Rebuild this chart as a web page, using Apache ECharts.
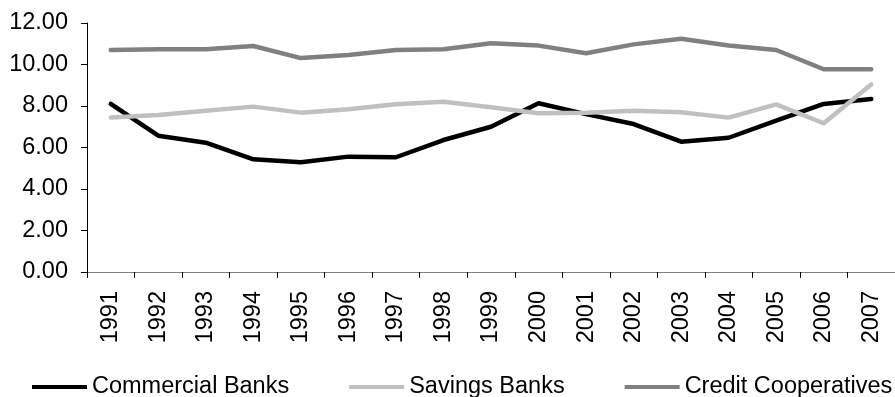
<!DOCTYPE html>
<html>
<head>
<meta charset="utf-8">
<script src="https://cdn.jsdelivr.net/npm/echarts@6/dist/echarts.min.js"></script>
<style>html,body{margin:0;padding:0;background:#fff;}#c{width:895px;height:397px;}</style>
</head>
<body>
<div id="c"></div>
<script>
const years = ['1991','1992','1993','1994','1995','1996','1997','1998','1999','2000','2001','2002','2003','2004','2005','2006','2007'];
const commercialBanks = [8.10, 6.57, 6.23, 5.43, 5.29, 5.56, 5.53, 6.36, 7.00, 8.13, 7.61, 7.13, 6.28, 6.47, 7.29, 8.10, 8.34];
const savingsBanks = [7.44, 7.57, 7.77, 7.97, 7.68, 7.84, 8.08, 8.21, 7.94, 7.65, 7.68, 7.77, 7.70, 7.44, 8.08, 7.17, 9.04];
const creditCooperatives = [10.70, 10.73, 10.73, 10.89, 10.31, 10.46, 10.70, 10.73, 11.02, 10.91, 10.54, 10.97, 11.24, 10.92, 10.70, 9.77, 9.77];
const yTicks = { min: 0, max: 12, interval: 2 };

const font = 'Liberation Sans, Arial, sans-serif';
const fs = 23.5;
const chart = echarts.init(document.getElementById('c'), null, { renderer: 'canvas' });
function mk(name, data, color) {
  return {
    name, type: 'line', data, symbol: 'none', smooth: false,
    lineStyle: { color, width: 4.5, cap: 'round', join: 'round' },
    itemStyle: { color }, animation: false
  };
}
chart.setOption({
  animation: false,
  backgroundColor: '#fff',
  grid: { left: 87, top: 23, width: 815, bottom: 125, containLabel: false },
  legend: {
    left: 32, top: 375, padding: 0, itemWidth: 55, itemHeight: 4, itemGap: 60,
    icon: 'rect',
    textStyle: { fontFamily: font, fontSize: fs, color: '#000' },
    data: ['Commercial Banks', 'Savings Banks', 'Credit Cooperatives']
  },
  xAxis: {
    type: 'category', data: years, boundaryGap: true,
    axisLine: { lineStyle: { color: '#808080', width: 1 } },
    axisTick: { show: true, length: 6, lineStyle: { color: '#000' } },
    axisLabel: { rotate: 90, margin: 19, fontFamily: font, fontSize: fs, color: '#000', interval: 0 }
  },
  yAxis: {
    type: 'value', min: yTicks.min, max: yTicks.max, interval: yTicks.interval,
    splitLine: { show: false },
    axisLine: { show: true, lineStyle: { color: '#000', width: 1 } },
    axisTick: { show: true, length: 6, lineStyle: { color: '#000' } },
    axisLabel: { margin: 19, fontFamily: font, fontSize: fs, color: '#000', formatter: v => v.toFixed(2) }
  },
  series: [
    mk('Commercial Banks', commercialBanks, '#000000'),
    mk('Savings Banks', savingsBanks, '#c0c0c0'),
    mk('Credit Cooperatives', creditCooperatives, '#808080')
  ]
});
</script>
</body>
</html>
